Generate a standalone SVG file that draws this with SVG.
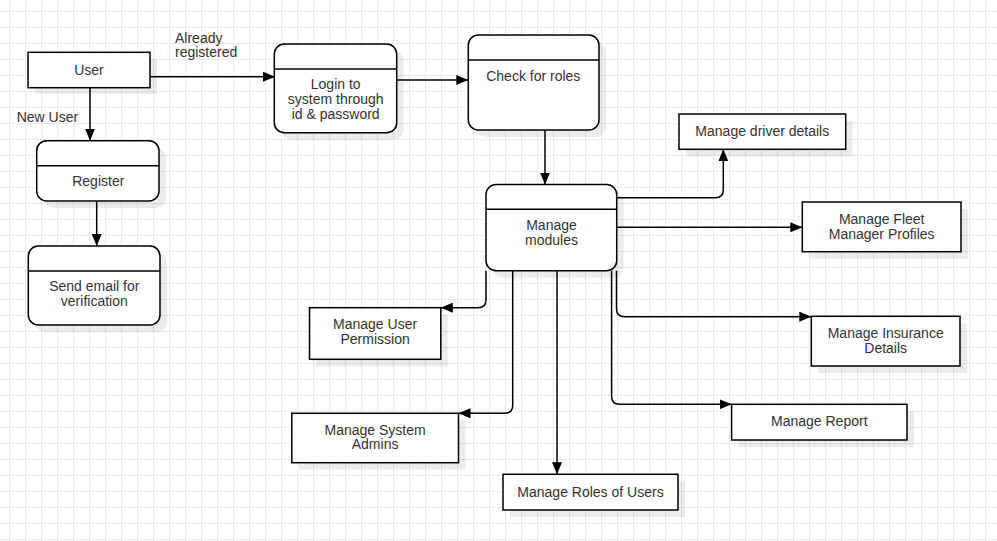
<svg xmlns="http://www.w3.org/2000/svg" width="997" height="541" viewBox="0 0 997 541">
<style>
.box{fill:#fff;stroke:#000;stroke-width:1.5}
.sh{fill:#000;opacity:0.075}
.div{stroke:#000;stroke-width:1.5}
.t{font-family:"Liberation Sans",Arial,sans-serif;font-size:14px;fill:#333;text-anchor:middle}
.tl{font-family:"Liberation Sans",Arial,sans-serif;font-size:14px;fill:#333}
.c{fill:none;stroke:#000;stroke-width:1.5;marker-end:url(#ah)}
</style>
<defs>
<pattern id="grid" width="16" height="16" patternUnits="userSpaceOnUse" x="9" y="11">
<path d="M0 0.5H16M0.5 0V16" stroke="#ebebeb" stroke-width="1" fill="none"/>
</pattern>
<marker id="ah" markerUnits="userSpaceOnUse" markerWidth="12" markerHeight="10" refX="12" refY="5" orient="auto">
<path d="M0,0L12,5L0,10z" fill="#000"/>
</marker>
</defs>
<rect width="997" height="541" fill="#fff"/>
<rect width="997" height="541" fill="url(#grid)"/>

<g id="connectors">
<path class="c" d="M150,76.7H275"/>
<path class="c" d="M90,87.7V140.7"/>
<path class="c" d="M96.7,201V246"/>
<path class="c" d="M396.7,80H468.3"/>
<path class="c" d="M545,130V184.5"/>
<path class="c" d="M616.7,197.7H715.3Q723.3,197.7 723.3,189.7V149.3"/>
<path class="c" d="M616.7,227.3H802.3"/>
<path class="c" d="M616.5,270.7V308.7Q616.5,316.7 624.5,316.7H811.3"/>
<path class="c" d="M486,270.7V299.7Q486,307.7 478,307.7H440.8"/>
<path class="c" d="M512.7,270.7V405.3Q512.7,413.3 504.7,413.3H458.5"/>
<path class="c" d="M557,270.7V474.3"/>
<path class="c" d="M611.6,270.7V396.3Q611.6,404.3 619.6,404.3H731.6"/>
<text class="tl" x="175" y="42.7">Already</text>
<text class="tl" x="175" y="57.3">registered</text>
<text class="tl" x="16.7" y="122.3">New User</text>
</g>

<g id="user">
<rect class="sh" x="35" y="59" width="122" height="35"/>
<rect class="box" x="28" y="52.3" width="122" height="35.4"/>
<text class="t" x="89" y="75">User</text>
</g>

<g id="register">
<rect class="sh" x="43.7" y="147.7" width="122.3" height="60.3" rx="10"/>
<rect class="box" x="36.7" y="140.7" width="122.3" height="60.3" rx="10"/>
<line class="div" x1="36.7" y1="165.7" x2="159" y2="165.7"/>
<text class="t" x="98.3" y="185.7">Register</text>
</g>

<g id="send-email">
<rect class="sh" x="35.3" y="253" width="131.7" height="79" rx="10"/>
<rect class="box" x="28.3" y="246" width="131.7" height="79" rx="10"/>
<line class="div" x1="28.3" y1="271" x2="160" y2="271"/>
<text class="t" x="94.3" y="291.4">Send email for</text>
<text class="t" x="94.3" y="306">verification</text>
</g>

<g id="login">
<rect class="sh" x="281.3" y="51" width="122.4" height="88.7" rx="10"/>
<rect class="box" x="274.3" y="44" width="122.4" height="88.7" rx="10"/>
<line class="div" x1="274.3" y1="69" x2="396.7" y2="69"/>
<text class="t" x="335.7" y="89.3">Login to</text>
<text class="t" x="335.7" y="103.9">system through</text>
<text class="t" x="335.7" y="118.5">id &amp; password</text>
</g>

<g id="check-roles">
<rect class="sh" x="475.3" y="42" width="130.7" height="95" rx="10"/>
<rect class="box" x="468.3" y="35" width="130.7" height="95" rx="10"/>
<line class="div" x1="468.3" y1="60" x2="599" y2="60"/>
<text class="t" x="533.3" y="80.7">Check for roles</text>
</g>

<g id="manage-modules">
<rect class="sh" x="493" y="191.5" width="130.7" height="86.3" rx="10"/>
<rect class="box" x="486" y="184.5" width="130.7" height="86.2" rx="10"/>
<line class="div" x1="486" y1="209.3" x2="616.7" y2="209.3"/>
<text class="t" x="551.5" y="230">Manage</text>
<text class="t" x="551.5" y="244.6">modules</text>
</g>

<g id="driver-details">
<rect class="sh" x="686" y="121" width="166.7" height="35.3"/>
<rect class="box" x="679" y="114" width="166.7" height="35.3"/>
<text class="t" x="762.3" y="135.7">Manage driver details</text>
</g>

<g id="fleet-manager">
<rect class="sh" x="809.3" y="209" width="158.7" height="49.7"/>
<rect class="box" x="802.3" y="202" width="158.7" height="49.7"/>
<text class="t" x="881.7" y="224">Manage Fleet</text>
<text class="t" x="881.7" y="238.6">Manager Profiles</text>
</g>

<g id="insurance">
<rect class="sh" x="818.3" y="323.3" width="148.7" height="49.7"/>
<rect class="box" x="811.3" y="316.3" width="148.7" height="49.7"/>
<text class="t" x="885.7" y="337.9">Manage Insurance</text>
<text class="t" x="885.7" y="352.5">Details</text>
</g>

<g id="user-permission">
<rect class="sh" x="316.5" y="314.7" width="131.3" height="51.6"/>
<rect class="box" x="309.5" y="307.7" width="131.3" height="51.6"/>
<text class="t" x="375.1" y="328.9">Manage User</text>
<text class="t" x="375.1" y="343.5">Permission</text>
</g>

<g id="system-admins">
<rect class="sh" x="298.8" y="420.3" width="166.7" height="49.4"/>
<rect class="box" x="291.8" y="413.3" width="166.7" height="49.4"/>
<text class="t" x="375.1" y="434.7">Manage System</text>
<text class="t" x="375.1" y="449.3">Admins</text>
</g>

<g id="roles-of-users">
<rect class="sh" x="510" y="481.3" width="175" height="35.7"/>
<rect class="box" x="503" y="474.3" width="175" height="35.7"/>
<text class="t" x="590.5" y="496.7">Manage Roles of Users</text>
</g>

<g id="report">
<rect class="sh" x="738.6" y="411.3" width="175.4" height="35.7"/>
<rect class="box" x="731.6" y="404.3" width="175.4" height="35.7"/>
<text class="t" x="819.3" y="426.3">Manage Report</text>
</g>
</svg>
